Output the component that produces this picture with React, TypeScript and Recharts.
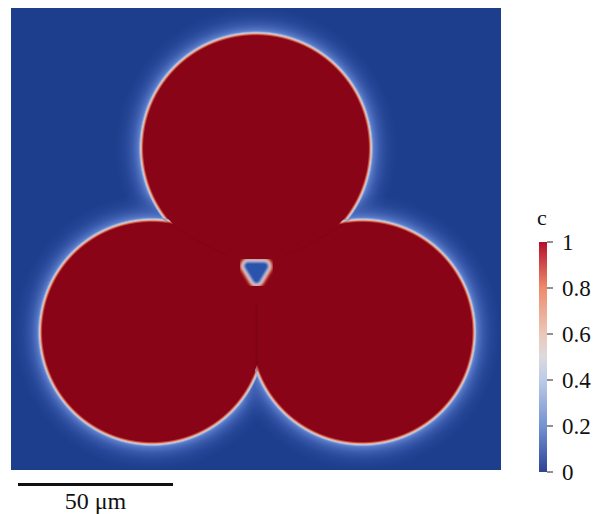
import { Bar, BarChart, CartesianGrid, Scatter, ScatterChart, XAxis, YAxis } from 'recharts';

// simulation box, µm
const FIELD_W = 159;
const FIELD_H = 150;

// particles (centre + radius, µm)
const grainX = [79.5, 45.8, 114.0];
const grainY = [104.5, 44.8, 44.8];
const grainR = [37.2, 36.3, 36.3];

// pore at the triple junction
const poreX = [79.6];
const poreY = [64.5];
const poreR = [3.9];

// grain boundaries (faint lines inside the particles)
const gbLeftX = [76.0, 63.0, 49.4];
const gbLeftY = [67.2, 73.1, 81.5];
const gbRightX = [83.4, 96.4, 110.1];
const gbRightY = [67.2, 73.1, 81.5];
const gbBottomX = [79.6, 79.7];
const gbBottomY = [60.2, 32.0];

const cTicks = [0, 0.2, 0.4, 0.6, 0.8, 1];
const scaleBarLabel = '50 μm';

const CHART_W = 510;
const CHART_H = 480;
const MARGIN = { top: 8, right: 9, bottom: 10, left: 11 };
const PX = (CHART_W - MARGIN.left - MARGIN.right) / FIELD_W;

const RED = '#8a0418';
const BG = '#1c3e8c';
const SERIF = '"Liberation Serif", "Times New Roman", Times, serif';

const grains = grainX.map((x, i) => ({ x, y: grainY[i], r: grainR[i], id: i }));
const pores = poreX.map((x, i) => ({ x, y: poreY[i], r: poreR[i], id: i }));
const toPts = (xs: number[], ys: number[]) => xs.map((x, i) => ({ x, y: ys[i] }));

function HaloShape(props: any) {
  const { cx, cy, payload } = props;
  const r = payload.r * PX;
  const R = r + 27;
  const o = (d: number) => `${((r + d) / R) * 100}%`;
  const id = `halo-${payload.id}`;
  return (
    <g>
      <defs>
        <radialGradient id={id} gradientUnits='userSpaceOnUse' cx={cx} cy={cy} r={R}>
          <stop offset='0%' stopColor='#7a96d6' />
          <stop offset={o(1)} stopColor='#7a96d6' />
          <stop offset={o(4)} stopColor='#5272c2' />
          <stop offset={o(9)} stopColor='#4060b2' stopOpacity={0.8} />
          <stop offset={o(17)} stopColor='#3353a6' stopOpacity={0.4} />
          <stop offset='100%' stopColor='#2a4a9c' stopOpacity={0} />
        </radialGradient>
      </defs>
      <circle cx={cx} cy={cy} r={R} fill={`url(#${id})`} />
    </g>
  );
}

function RingShape(props: any) {
  const { cx, cy, payload } = props;
  const r = payload.r * PX;
  const R = r + 2.6;
  const o = (d: number) => `${((r + d) / R) * 100}%`;
  const id = `ring-${payload.id}`;
  return (
    <g>
      <defs>
        <radialGradient id={id} gradientUnits='userSpaceOnUse' cx={cx} cy={cy} r={R}>
          <stop offset='0%' stopColor={RED} />
          <stop offset={o(-2.4)} stopColor={RED} />
          <stop offset={o(-1.1)} stopColor='#c94a3e' />
          <stop offset={o(-0.1)} stopColor='#e6a88c' />
          <stop offset={o(0.8)} stopColor='#c5cadf' />
          <stop offset={o(1.7)} stopColor='#93abdf' />
          <stop offset='100%' stopColor='#7a96d6' stopOpacity={0} />
        </radialGradient>
      </defs>
      <circle cx={cx} cy={cy} r={R} fill={`url(#${id})`} />
    </g>
  );
}

function CoreShape(props: any) {
  const { cx, cy, payload } = props;
  return <circle cx={cx} cy={cy} r={payload.r * PX - 2} fill={RED} />;
}

function PoreShape(props: any) {
  const { cx, cy, payload } = props;
  const s = payload.r * PX;
  const pts = [
    [cx - 0.66 * s, cy - 0.45 * s],
    [cx + 0.66 * s, cy - 0.42 * s],
    [cx + 0.02 * s, cy + 0.66 * s],
  ]
    .map((p) => p.join(','))
    .join(' ');
  const layers = [
    { w: 19, c: '#b6302c' },
    { w: 15, c: '#eba283' },
    { w: 12.5, c: '#e0d6d8' },
    { w: 10.5, c: '#a2b6e4' },
    { w: 8, c: '#2c52ac' },
  ];
  return (
    <g>
      <circle cx={cx} cy={cy} r={s * 2.8} fill={RED} />
      <g filter='url(#soft)'>
        {layers.map((l, i) => (
          <polygon
            key={i}
            points={pts}
            fill={l.c}
            stroke={l.c}
            strokeWidth={l.w}
            strokeLinejoin='round'
          />
        ))}
      </g>
    </g>
  );
}

const NoDot = () => <g />;

function FieldChart() {
  return (
    <ScatterChart width={CHART_W} height={CHART_H} margin={MARGIN}>
      <defs>
        <filter id='soft' x='-50%' y='-50%' width='200%' height='200%'>
          <feGaussianBlur stdDeviation='1' />
        </filter>
      </defs>
      <CartesianGrid horizontal={false} vertical={false} fill={BG} stroke='none' />
      <XAxis type='number' dataKey='x' domain={[0, FIELD_W]} hide allowDataOverflow />
      <YAxis type='number' dataKey='y' domain={[0, FIELD_H]} hide allowDataOverflow />
      <Scatter data={grains} shape={HaloShape} isAnimationActive={false} />
      <Scatter data={grains} shape={RingShape} isAnimationActive={false} />
      <Scatter data={grains} shape={CoreShape} isAnimationActive={false} />
      <Scatter
        data={toPts(gbLeftX, gbLeftY)}
        line={{ stroke: '#700010', strokeWidth: 1.5, strokeOpacity: 0.22 }}
        lineJointType='monotoneY'
        shape={NoDot}
        isAnimationActive={false}
      />
      <Scatter
        data={toPts(gbRightX, gbRightY)}
        line={{ stroke: '#700010', strokeWidth: 1.5, strokeOpacity: 0.22 }}
        lineJointType='monotoneY'
        shape={NoDot}
        isAnimationActive={false}
      />
      <Scatter
        data={toPts(gbBottomX, gbBottomY)}
        line={{ stroke: '#700010', strokeWidth: 2, strokeOpacity: 0.35 }}
        shape={NoDot}
        isAnimationActive={false}
      />
      <Scatter data={pores} shape={PoreShape} isAnimationActive={false} />
    </ScatterChart>
  );
}

function CbarTick(props: any) {
  const { x, y, payload } = props;
  return (
    <text
      x={x}
      y={y}
      dy='0.34em'
      textAnchor='start'
      fill='#111'
      fontSize={23}
      fontFamily={SERIF}
    >
      {String(payload.value)}
    </text>
  );
}

function ColorBar() {
  return (
    <BarChart
      width={63}
      height={270}
      data={[{ name: 'c', c: 1 }]}
      margin={{ top: 20, right: 0, bottom: 20, left: 9 }}
      barCategoryGap={0}
    >
      <defs>
        <linearGradient id='cbar' x1='0' y1='0' x2='0' y2='1'>
          <stop offset='0%' stopColor='#b30f2b' />
          <stop offset='20%' stopColor='#ee8b6c' />
          <stop offset='40%' stopColor='#ebc8b8' />
          <stop offset='50%' stopColor='#dcdadd' />
          <stop offset='60%' stopColor='#bccbe8' />
          <stop offset='80%' stopColor='#7492d2' />
          <stop offset='100%' stopColor='#2d4396' />
        </linearGradient>
      </defs>
      <XAxis dataKey='name' hide />
      <YAxis
        orientation='right'
        type='number'
        domain={[0, 1]}
        ticks={cTicks}
        width={46}
        axisLine={false}
        tickSize={6}
        tickMargin={9}
        tickLine={{ stroke: '#222' }}
        tick={CbarTick}
        interval={0}
      />
      <Bar dataKey='c' fill='url(#cbar)' isAnimationActive={false} />
    </BarChart>
  );
}

export default function App() {
  return (
    <div
      style={{
        position: 'absolute',
        left: 0,
        top: 0,
        width: 593,
        height: 514,
        background: '#fff',
        fontFamily: SERIF,
        overflow: 'hidden',
      }}
    >
      <div style={{ position: 'absolute', left: 0, top: 0 }}>
        <FieldChart />
      </div>
      <div style={{ position: 'absolute', left: 530, top: 222 }}>
        <ColorBar />
      </div>
      <div
        style={{
          position: 'absolute',
          left: 537,
          top: 205,
          fontFamily: SERIF,
          fontSize: 22,
          lineHeight: '26px',
          color: '#111',
        }}
      >
        c
      </div>
      <div
        style={{
          position: 'absolute',
          left: 18,
          top: 483,
          width: 155,
          height: 2.5,
          background: '#111',
        }}
      />
      <div
        style={{
          position: 'absolute',
          left: 18,
          top: 488,
          width: 155,
          textAlign: 'center',
          fontFamily: SERIF,
          fontSize: 24,
          lineHeight: '26px',
          color: '#111',
        }}
      >
        {scaleBarLabel}
      </div>
    </div>
  );
}
